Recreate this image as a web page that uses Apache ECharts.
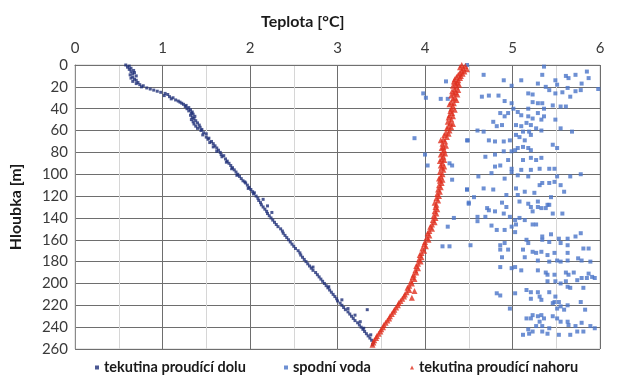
<!DOCTYPE html>
<html>
<head>
<meta charset="utf-8">
<script src="https://cdn.jsdelivr.net/npm/echarts@6/dist/echarts.min.js"></script>
<style>
html,body{margin:0;padding:0;background:#fff;}
#chart{width:627px;height:384px;}
</style>
</head>
<body>
<div id="chart"></div>
<script>
// Tick labels
const xTicks = [0,1,2,3,4,5,6];
const yTicks = [0,20,40,60,80,100,120,140,160,180,200,220,240,260];
const seriesNames = ['tekutina proudící dolu','spodní voda','tekutina proudící nahoru'];

// [teplota °C, hloubka m]
const downFlow = [
[0.58,0],[0.62,1],[0.6,2],[0.64,3],[0.62,4],[0.67,5],[0.64,6],[0.68,7],[0.66,8],[0.63,9],
[0.7,10],[0.66,11],[0.64,12],[0.68,13],[0.7,14],[0.66,15],[0.72,16],[0.7,17],[0.74,18],[0.78,19],
[0.76,20],[0.82,21],[0.86,22],[0.9,23],[0.94,24],[0.98,25],[1.03,26],[1.06,27],[1.02,28],[1.08,29],
[1.12,30],[1.1,31],[1.15,32],[1.18,33],[1.2,34],[1.22,35],[1.24,36],[1.27,37],[1.26,38],[1.3,39],
[1.28,40],[1.32,41],[1.3,42],[1.34,43],[1.33,44],[1.35,45],[1.32,46],[1.37,47],[1.34,48],[1.36,49],
[1.33,50],[1.38,51],[1.35,52],[1.4,53],[1.36,54],[1.42,55],[1.38,56],[1.43,57],[1.4,58],[1.45,59],
[1.44,60],[1.47,62],[1.5,63],[1.46,64],[1.5,66],[1.53,67],[1.52,68],[1.56,70],[1.54,71],[1.58,72],
[1.6,74],[1.58,75],[1.62,76],[1.64,78],[1.62,79],[1.66,80],[1.67,82],[1.7,83],[1.68,84],[1.72,86],
[1.74,88],[1.73,89],[1.76,90],[1.78,92],[1.8,94],[1.79,95],[1.82,96],[1.84,98],[1.86,100],[1.85,101],
[1.88,102],[1.9,104],[1.92,106],[1.94,107],[1.95,108],[1.97,110],[1.99,112],[1.98,113],[2.01,114],[2.03,116],
[2.05,117],[2.04,118],[2.07,120],[2.09,122],[2.15,123],[2.1,124],[2.12,126],[2.13,128],[2.2,129],[2.15,130],
[2.17,132],[2.19,134],[2.25,135],[2.2,136],[2.22,138],[2.24,140],[2.26,142],[2.28,144],[2.3,146],[2.32,148],
[2.35,150],[2.37,152],[2.38,154],[2.4,156],[2.42,158],[2.44,160],[2.46,162],[2.48,164],[2.5,166],[2.52,168],
[2.55,170],[2.57,172],[2.58,174],[2.6,176],[2.62,178],[2.64,180],[2.66,182],[2.68,184],[2.72,185],[2.7,186],
[2.72,188],[2.75,190],[2.77,192],[2.79,194],[2.81,196],[2.83,198],[2.85,200],[2.87,202],[2.9,203],[2.89,204],
[2.91,206],[2.93,208],[2.95,210],[2.97,212],[2.99,214],[3.05,215],[3.0,216],[3.03,218],[3.05,220],[3.07,222],
[3.12,223],[3.09,224],[3.12,226],[3.14,228],[3.2,229],[3.16,230],[3.18,232],[3.2,234],[3.26,235],[3.23,236],
[3.25,238],[3.27,240],[3.3,241],[3.29,242],[3.31,244],[3.33,246],[3.38,247],[3.35,248],[3.37,250],[3.39,252],
[3.41,254],[3.4,256],[3.34,224]
];

const groundWater = [
[4.48,0],[5.36,1.5],[4.67,9],[4.9,14],[5.1,14],[4.99,19],[5.34,9],[5.29,17],[5.38,20],[5.49,14],
[5.51,18],[5.61,10],[5.64,12],[5.72,9],[5.85,6],[5.87,12],[5.79,17],[5.78,23],[5.72,24],[5.63,21],
[5.57,25],[5.49,26],[5.42,23],[5.98,22],[5.18,26],[5.23,27],[4.65,29],[4.73,28],[4.84,28],[4.91,33],
[4.99,35],[5.01,40],[5.06,43],[5.18,40],[5.23,34],[5.29,35],[5.34,35],[5.36,40],[5.46,37],[5.55,38],
[5.61,38],[5.66,29],[4.86,44],[4.91,47],[4.95,44],[5.1,46],[5.18,47],[5.23,49],[5.29,44],[5.33,50],
[5.36,47],[5.49,50],[4.78,52],[4.82,56],[4.88,55],[5.04,55],[5.1,56],[5.16,53],[5.21,55],[5.27,58],
[5.33,60],[5.19,61],[5.12,61],[5.55,58],[5.68,61],[4.6,60],[4.67,61],[4.48,69],[4.73,69],[4.8,70],
[4.9,70],[4.97,69],[5.04,64],[5.08,66],[5.14,69],[5.21,64],[5.06,76],[5.03,78],[5.12,75],[5.18,76],
[5.21,78],[4.9,79],[4.99,79],[5.46,73],[5.51,76],[4.69,84],[4.8,82],[4.95,87],[5.12,87],[5.21,85],
[5.27,87],[5.33,85],[4.8,93],[4.86,92],[4.99,95],[4.99,98],[5.1,96],[5.21,96],[5.31,95],[5.42,95],
[5.48,95],[4.61,102],[4.76,99],[4.91,104],[5.06,101],[5.18,102],[5.51,102],[5.66,102],[5.78,100],[4.48,114],
[4.67,113],[4.78,114],[5.04,113],[5.31,110],[5.34,108],[5.42,108],[5.55,110],[5.48,107],[5.59,116],[4.56,121],
[4.93,119],[5.06,119],[5.14,116],[5.25,117],[5.44,121],[4.5,127],[4.88,126],[5.08,125],[5.18,127],[5.21,130],
[5.4,128],[4.71,131],[4.93,130],[5.29,130],[5.29,125],[5.42,128],[5.38,131],[4.6,139],[4.69,139],[4.73,133],
[4.8,134],[4.9,136],[4.97,139],[5.03,142],[5.08,140],[5.14,142],[5.23,134],[5.33,131],[5.46,136],[5.57,136],
[4.6,143],[4.76,147],[4.82,151],[4.91,151],[4.99,148],[5.04,146],[5.23,146],[5.27,146],[5.03,153],[5.34,157],
[5.44,155],[5.53,159],[5.63,159],[5.72,157],[5.78,154],[4.52,165],[4.86,165],[4.91,163],[4.86,169],[4.95,169],
[5.16,160],[5.18,163],[5.34,160],[5.42,162],[5.55,163],[5.63,165],[5.12,169],[5.23,171],[5.27,172],[5.33,171],
[5.4,174],[5.48,172],[5.63,172],[5.81,168],[5.87,168],[4.88,176],[5.14,176],[5.29,179],[5.42,180],[5.51,179],
[5.55,180],[5.63,179],[5.75,177],[5.79,179],[5.89,180],[4.86,185],[4.99,186],[5.03,185],[5.1,188],[5.29,188],
[5.38,190],[5.4,192],[5.48,192],[5.61,190],[5.64,192],[5.7,190],[5.87,191],[5.91,194],[5.94,195],[5.85,195],
[5.79,195],[5.4,198],[5.49,198],[5.55,200],[5.61,198],[5.63,203],[5.66,204],[5.74,197],[5.81,204],[4.82,209],
[4.86,211],[5.03,209],[5.16,206],[5.21,208],[5.29,208],[5.31,212],[5.33,215],[5.21,214],[5.42,208],[5.49,212],
[5.48,217],[5.46,218],[5.53,217],[5.55,221],[5.51,223],[5.59,224],[5.63,220],[5.78,217],[5.83,224],[4.97,223],
[5.16,232],[5.21,232],[5.23,229],[5.29,230],[5.33,229],[5.31,235],[5.36,232],[5.46,230],[5.51,232],[5.55,235],
[5.63,235],[5.64,238],[5.72,239],[5.79,236],[5.89,239],[5.27,239],[5.34,239],[5.42,241],[5.18,242],[5.23,244],
[5.12,247],[5.19,246],[5.34,244],[5.4,246],[5.53,247],[5.66,247],[5.74,244],[5.81,244],[5.94,241],
[4.24,15],[3.98,26],[4.01,30],[4.18,31],[4.26,31],[3.88,67],[4.49,69],[4.0,82],[4.03,92],[4.28,90],
[4.31,92],[4.31,105],[4.48,114],[4.5,126],[4.33,140],[4.26,148],[4.2,166],[4.28,166]
];

const upFlow = [
[4.42,0],[4.46,1],[4.4,2],[4.44,3],[4.48,4],[4.42,5],[4.45,6],[4.4,7],[4.43,8],[4.38,9],
[4.41,10],[4.36,11],[4.4,12],[4.34,13],[4.38,14],[4.33,15],[4.37,16],[4.35,17],[4.39,18],[4.32,19],
[4.36,20],[4.34,22],[4.38,23],[4.31,24],[4.35,25],[4.33,26],[4.37,27],[4.3,28],[4.34,30],[4.32,31],
[4.36,32],[4.3,34],[4.33,35],[4.28,36],[4.32,38],[4.3,40],[4.34,41],[4.29,42],[4.31,44],[4.28,46],
[4.32,47],[4.27,48],[4.3,50],[4.26,52],[4.29,53],[4.32,54],[4.27,56],[4.3,57],[4.25,58],[4.28,60],
[4.24,62],[4.27,63],[4.22,64],[4.25,66],[4.21,68],[4.18,69],[4.23,70],[4.2,72],[4.24,74],[4.21,75],
[4.19,76],[4.22,78],[4.2,80],[4.23,81],[4.18,82],[4.21,84],[4.19,86],[4.22,87],[4.17,88],[4.2,90],
[4.18,92],[4.22,93],[4.19,94],[4.21,96],[4.17,98],[4.2,100],[4.18,102],[4.16,104],[4.2,105],[4.17,106],
[4.19,108],[4.16,110],[4.18,112],[4.15,114],[4.17,116],[4.14,118],[4.16,120],[4.13,122],[4.15,124],[4.11,126],
[4.13,128],[4.12,130],[4.14,132],[4.11,134],[4.13,136],[4.1,138],[4.12,140],[4.09,142],[4.11,144],[4.08,146],
[4.06,148],[4.08,150],[4.05,152],[4.03,154],[4.05,156],[4.02,158],[4.04,160],[4.0,162],[3.99,164],[4.01,166],
[3.97,168],[3.99,170],[3.96,172],[3.94,174],[3.96,176],[3.93,178],[3.95,180],[3.92,182],[3.9,184],[3.92,186],
[3.89,188],[3.9,190],[3.87,192],[3.86,194],[3.88,196],[3.84,198],[3.85,200],[3.82,202],[3.8,204],[3.82,206],
[3.88,207],[3.79,208],[3.77,210],[3.76,212],[3.85,213],[3.74,214],[3.72,216],[3.7,218],[3.69,220],[3.67,222],
[3.65,224],[3.64,226],[3.62,228],[3.6,230],[3.59,232],[3.57,234],[3.55,236],[3.53,238],[3.52,240],[3.5,242],
[3.49,244],[3.47,246],[3.45,248],[3.44,250],[3.42,252],[3.41,254],[3.4,256]
];

const chart = echarts.init(document.getElementById('chart'), null, {renderer:'canvas'});
const FONT = 'Lato, "Liberation Sans", sans-serif';
const legendText = {fontFamily:FONT, fontWeight:'bold', fontSize:14.5, color:'#1a1a1a'};
function mkLegend(name, left){
  return {data:[name], bottom:4, left:left, itemWidth:4, itemHeight:4, itemGap:0, textStyle:legendText};
}
chart.setOption({
  backgroundColor:'#ffffff',
  animation:false,
  title:{
    text:'Teplota [°C]', left:256, top:9,
    textStyle:{fontFamily:FONT, fontWeight:'bold', fontSize:16, color:'#1a1a1a'}
  },
  legend:[
    mkLegend(seriesNames[0], 90),
    mkLegend(seriesNames[1], 279),
    mkLegend(seriesNames[2], 405)
  ],
  grid:{left:66, right:27, top:65, bottom:35, show:true, borderColor:'#cfcfcf', borderWidth:1},
  xAxis:{
    type:'value', position:'top', min:xTicks[0], max:xTicks[xTicks.length-1], interval:1,
    axisLine:{show:true, lineStyle:{color:'#707070'}},
    axisTick:{show:false},
    axisLabel:{fontFamily:FONT, fontSize:15, color:'#3a3a3a', margin:9},
    splitLine:{show:true, lineStyle:{color:'#6e6e6e', width:1}},
    minorTick:{show:false, splitNumber:2},
    minorSplitLine:{show:true, lineStyle:{color:'#d6d6d6', width:1}}
  },
  yAxis:{
    type:'value', inverse:true, min:yTicks[0], max:yTicks[yTicks.length-1], interval:20,
    name:'Hloubka [m]', nameLocation:'middle', nameGap:51, nameRotate:90,
    nameTextStyle:{fontFamily:FONT, fontWeight:'bold', fontSize:16, color:'#1a1a1a'},
    axisLine:{show:true, lineStyle:{color:'#8a8a8a'}},
    axisTick:{show:false},
    axisLabel:{fontFamily:FONT, fontSize:15, color:'#3a3a3a', margin:7},
    splitLine:{show:true, lineStyle:{color:'#6e6e6e', width:1}}
  },
  series:[
    {name:seriesNames[0], type:'scatter', data:downFlow, symbol:'rect', symbolSize:3,
     itemStyle:{color:'#1f2f78'}},
    {name:seriesNames[1], type:'scatter', data:groundWater, symbol:'rect', symbolSize:4,
     itemStyle:{color:'#4a74c8'}},
    {name:seriesNames[2], type:'scatter', data:upFlow, symbol:'triangle', symbolSize:6,
     itemStyle:{color:'#e0301e'}}
  ]
});
</script>
</body>
</html>
